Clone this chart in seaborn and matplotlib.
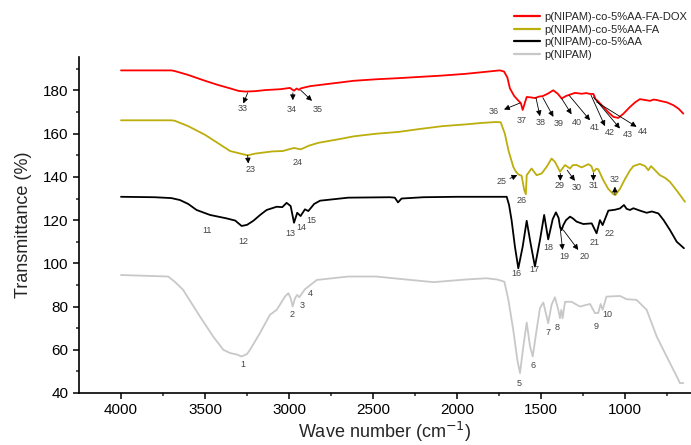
"""FTIR spectra of p(NIPAM) copolymers, redrawn with seaborn."""

import matplotlib.pyplot as plt
import seaborn as sns

# p(NIPAM)-co-5%AA-FA-DOX
dox_wn = [4000, 3700, 3680, 3600, 3500, 3420, 3351, 3300, 3259, 3200, 3140, 3050,
          2994, 2980, 2970, 2955, 2940, 2929, 2875, 2750, 2613, 2480, 2351, 2220,
          2089, 1950, 1822, 1760, 1744, 1720, 1700, 1685, 1660, 1637, 1620, 1609,
          1597, 1585, 1560, 1536, 1510, 1490, 1460, 1427, 1400, 1377, 1350, 1327,
          1298, 1258, 1230, 1208, 1188, 1175, 1160, 1129, 1100, 1069, 1040, 1010,
          970, 940, 911, 880, 851, 830, 811, 780, 750, 712, 680, 653]
dox_t = [189.3, 189.3, 189.0, 187.2, 184.5, 182.5, 181.0, 179.8, 179.5, 179.7, 180.2, 180.6,
         181.2, 180.4, 179.9, 180.9, 180.3, 181.0, 182.0, 183.2, 184.5, 185.2, 185.7, 186.3,
         186.9, 187.7, 188.7, 189.2, 189.3, 188.8, 186.0, 181.0, 177.5, 175.5, 174.2, 171.0,
         174.0, 177.0, 176.8, 176.5, 177.2, 177.4, 178.5, 180.1, 178.5, 176.3, 177.5, 178.1,
         178.9, 178.5, 178.8, 178.4, 178.4, 176.0, 175.0, 172.4, 170.0, 167.8, 167.3, 169.2,
         172.4, 174.5, 176.0, 175.6, 175.2, 175.8, 175.6, 175.0, 174.5, 173.2, 171.5, 169.3]

# p(NIPAM)-co-5%AA-FA
fa_wn = [4000, 3700, 3680, 3600, 3500, 3420, 3351, 3300, 3246, 3200, 3100, 3036,
         2990, 2970, 2945, 2929, 2880, 2824, 2700, 2613, 2480, 2351, 2220, 2087,
         1950, 1850, 1770, 1740, 1715, 1694, 1665, 1650, 1635, 1615, 1600, 1590,
         1585, 1556, 1526, 1496, 1466, 1437, 1417, 1400, 1387, 1357, 1327, 1310,
         1288, 1258, 1218, 1200, 1188, 1170, 1159, 1129, 1100, 1069, 1057, 1030,
         1000, 970, 950, 911, 880, 861, 845, 831, 792, 760, 732, 690, 643]
fa_t = [166.2, 166.2, 166.0, 163.5, 159.5, 155.5, 152.0, 151.0, 150.0, 150.8, 151.8, 152.0,
        153.0, 153.4, 153.0, 152.8, 154.5, 155.8, 157.5, 158.8, 160.0, 160.8, 162.2, 163.5,
        164.3, 165.0, 165.4, 165.3, 160.0, 152.4, 144.7, 142.5, 141.2, 140.5, 134.0, 132.0,
        140.8, 143.9, 140.8, 141.6, 144.7, 148.5, 147.0, 144.5, 142.4, 145.5, 143.9, 145.5,
        145.5, 144.4, 145.9, 145.0, 142.4, 143.8, 143.5, 138.5, 134.5, 132.0, 131.6, 134.5,
        139.0, 143.0, 145.0, 146.0, 145.0, 143.1, 145.0, 143.9, 140.8, 139.5, 137.7, 133.5, 128.5]

# p(NIPAM)-co-5%AA
aa_wn = [4000, 3800, 3700, 3649, 3600, 3550, 3470, 3371, 3320, 3282, 3250, 3212,
         3170, 3133, 3073, 3040, 3014, 2990, 2970, 2951, 2931, 2905, 2885, 2850,
         2815, 2647, 2400, 2370, 2351, 2330, 2200, 2000, 1800, 1704, 1690, 1675,
         1655, 1635, 1609, 1585, 1562, 1536, 1506, 1481, 1457, 1430, 1411, 1395,
         1387, 1377, 1367, 1351, 1327, 1310, 1288, 1248, 1198, 1169, 1149, 1133,
         1099, 1060, 1030, 1006, 990, 970, 950, 911, 871, 840, 801, 770, 732, 692, 649]
aa_t = [130.8, 130.6, 130.2, 129.3, 127.5, 124.7, 122.4, 120.8, 119.8, 117.3, 117.8, 119.7,
        122.5, 124.7, 126.2, 126.0, 128.0, 126.5, 118.8, 123.4, 121.9, 125.0, 124.2, 127.5,
        129.0, 130.4, 130.6, 130.4, 128.2, 130.0, 130.6, 130.8, 130.8, 130.8, 127.0, 120.0,
        107.7, 97.7, 107.7, 119.7, 109.3, 98.5, 110.8, 122.4, 111.1, 120.5, 123.6, 121.0,
        117.0, 115.4, 117.7, 120.0, 121.6, 120.8, 119.3, 118.2, 118.5, 113.9, 120.0, 117.7,
        124.4, 124.8, 125.4, 127.0, 125.2, 124.7, 125.5, 124.4, 123.4, 124.0, 123.1, 120.0,
        115.4, 110.0, 107.0]

# p(NIPAM)
nipam_wn = [4000, 3719, 3680, 3630, 3530, 3451, 3391, 3351, 3310, 3282, 3250, 3232,
            3173, 3113, 3073, 3024, 3004, 2990, 2978, 2964, 2951, 2939, 2905, 2885,
            2835, 2647, 2482, 2300, 2140, 1950, 1824, 1760, 1718, 1694, 1665, 1641,
            1625, 1605, 1585, 1565, 1549, 1526, 1506, 1486, 1457, 1437, 1417, 1397,
            1387, 1379, 1371, 1357, 1318, 1268, 1208, 1179, 1159, 1145, 1133, 1110,
            1030, 990, 931, 871, 811, 752, 692, 673, 653]
nipam_t = [94.6, 93.9, 91.5, 87.7, 75.4, 66.1, 60.0, 58.5, 57.8, 56.9, 58.0, 60.0,
           67.7, 76.2, 78.5, 84.6, 86.2, 83.9, 80.0, 83.9, 85.4, 84.3, 88.0, 89.2,
           92.3, 93.9, 93.9, 92.5, 91.3, 92.5, 93.1, 92.5, 91.5, 83.1, 69.2, 55.4,
           49.2, 61.5, 72.6, 61.5, 56.9, 69.2, 79.3, 81.9, 72.3, 80.8, 84.3, 78.5,
           74.6, 78.5, 74.6, 82.2, 82.2, 80.0, 81.2, 77.0, 77.0, 81.2, 78.5, 84.6,
           84.9, 83.4, 83.1, 78.5, 66.1, 56.9, 47.7, 44.6, 44.6]

series_names = ["p(NIPAM)-co-5%AA-FA-DOX", "p(NIPAM)-co-5%AA-FA",
                "p(NIPAM)-co-5%AA", "p(NIPAM)"]
series_colors = ["#ff0000", "#bcae0c", "#000000", "#c8c8c8"]

# band labels: number, wavenumber, transmittance
peak_ids = list(range(1, 27)) + list(range(29, 45))
peak_wn = [3272, 2981, 2921, 2871, 1629, 1549, 1460, 1403, 1173, 1105,
           3486, 3272, 2994, 2929, 2865, 1645, 1542, 1457, 1362, 1242, 1179, 1089,
           3226, 2951, 1736, 1614,
           1391, 1288, 1188, 1060,
           3277, 2982, 2832, 1780, 1615, 1500, 1393, 1284, 1177, 1089, 986, 892]
peak_t = [53.4, 76.5, 80.3, 86.2, 44.3, 52.6, 68.0, 70.5, 70.8, 76.2,
          115.1, 110.0, 113.6, 116.7, 120.0, 95.1, 97.0, 107.3, 103.1, 103.1, 109.6, 113.9,
          143.6, 146.5, 137.7, 129.0,
          135.9, 135.2, 135.8, 138.8,
          171.6, 171.3, 171.3, 170.5, 166.2, 165.0, 164.7, 165.3, 162.7, 160.4, 159.8, 161.2]

# arrows: from the curve (tail) to near the label (head)
arrow_tail_wn = [1387, 1367, 3246, 1685, 1385, 1344, 1188, 1060,
                 3246, 2977, 2930, 1625, 1530, 1489, 1377, 1333, 1202, 1188, 1169]
arrow_tail_t = [117.0, 115.4, 150.0, 139.3, 141.6, 143.1, 141.9, 131.8,
                178.9, 178.9, 180.1, 174.2, 176.7, 176.7, 176.3, 177.8, 177.8, 177.0, 174.7]
arrow_head_wn = [1371, 1278, 3242, 1641, 1385, 1298, 1188, 1060,
                 3272, 2977, 2863, 1720, 1506, 1426, 1318, 1208, 1119, 1030, 931]
arrow_head_t = [106.2, 106.2, 146.2, 140.8, 138.2, 138.2, 138.2, 135.5,
                174.0, 175.5, 175.2, 171.2, 168.1, 167.8, 169.0, 166.2, 163.5, 162.4, 163.2]

sns.set_style("ticks")
plt.rcParams["font.family"] = ["Liberation Sans", "DejaVu Sans"]

fig = plt.figure(figsize=(6.91, 4.45), dpi=100)
ax = fig.add_axes([0.1143, 0.1169, 0.8857, 0.755])

all_wn = [dox_wn, fa_wn, aa_wn, nipam_wn]
all_t = [dox_t, fa_t, aa_t, nipam_t]
for wn, t, name, col in zip(all_wn, all_t, series_names, series_colors):
    sns.lineplot(x=wn, y=t, ax=ax, color=col, label=name, sort=False,
                 estimator=None, linewidth=1.3)

for pid, w, t in zip(peak_ids, peak_wn, peak_t):
    ax.text(w, t, str(pid), fontsize=6.5, color="#444444", ha="center", va="center")

for tw, tt, hw, ht in zip(arrow_tail_wn, arrow_tail_t, arrow_head_wn, arrow_head_t):
    ax.annotate("", xy=(hw, ht), xytext=(tw, tt),
                arrowprops=dict(arrowstyle="-|>", color="black", lw=0.6,
                                mutation_scale=8, shrinkA=0, shrinkB=0))

ax.set_xlim(4250, 607)
ax.set_ylim(40, 195.5)
ax.set_xticks([4000, 3500, 3000, 2500, 2000, 1500, 1000])
ax.set_xticks([3750, 3250, 2750, 2250, 1750, 1250, 750], minor=True)
ax.set_yticks([40, 60, 80, 100, 120, 140, 160, 180])
ax.set_yticks([50, 70, 90, 110, 130, 150, 170, 190], minor=True)
ax.tick_params(which="major", direction="out", length=4, width=1.1, labelsize=11,
               colors="black")
ax.tick_params(which="minor", direction="out", length=2.5, width=1.1)
sns.despine(ax=ax)
for side in ["left", "bottom"]:
    ax.spines[side].set_linewidth(1.2)
    ax.spines[side].set_color("black")

ax.set_xlabel("Wave number (cm$^{-1}$)", fontsize=13, labelpad=2)
ax.set_ylabel("Transmittance (%)", fontsize=13, labelpad=8)

leg = ax.legend(loc="upper right", bbox_to_anchor=(1.012, 1.0), bbox_transform=fig.transFigure,
                frameon=False, fontsize=8, handlelength=2.3, labelspacing=0.22,
                handletextpad=0.4, borderaxespad=0.7)
for line in leg.get_lines():
    line.set_linewidth(1.6)

fig.savefig("out.png", dpi=100)
